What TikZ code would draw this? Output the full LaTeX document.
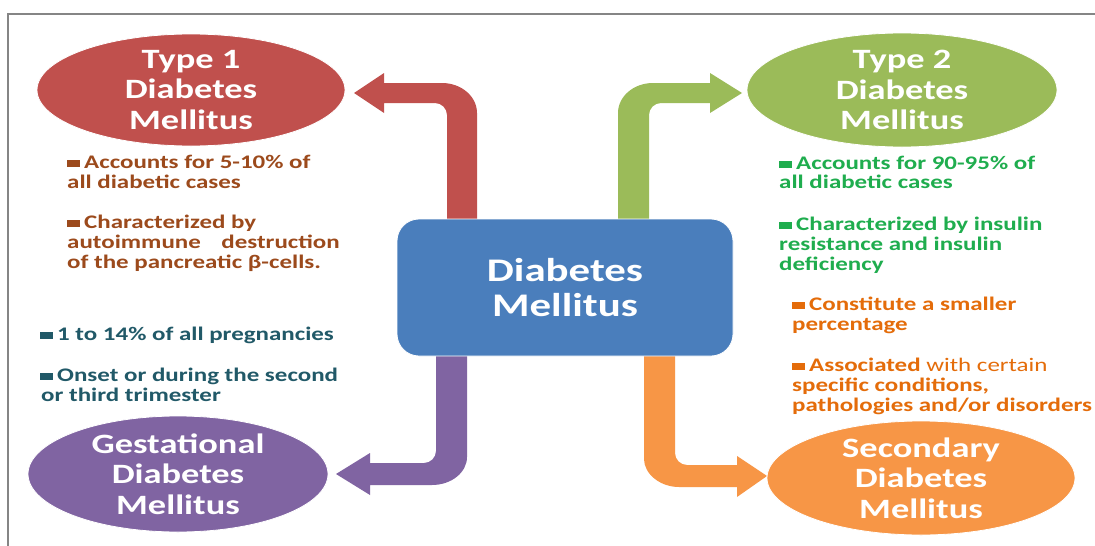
\documentclass[tikz,border=0pt]{standalone}
\usepackage{fontspec}
\setmainfont{Carlito}[FakeStretch=1.3]
\usetikzlibrary{shapes.geometric}
\definecolor{redc}{HTML}{C0504D}
\definecolor{greenc}{HTML}{9BBB59}
\definecolor{purplec}{HTML}{8064A2}
\definecolor{orangec}{HTML}{F79646}
\definecolor{bluec}{HTML}{4A7EBC}
\definecolor{browntx}{HTML}{9C4A1C}
\definecolor{greentx}{HTML}{1FAD4E}
\definecolor{tealtx}{HTML}{215968}
\definecolor{orangetx}{HTML}{E46C0A}
\definecolor{framec}{HTML}{858585}
\newcommand{\bsq}{\rule[1pt]{13pt}{7.5pt}\hspace{4pt}}
\newcommand{\ellfont}{\fontsize{28}{30.5}\selectfont\bfseries}
\newcommand{\ctrfont}{\fontsize{33}{34.5}\selectfont\bfseries}
\newcommand{\bulfont}{\fontsize{19.2}{20}\selectfont\bfseries}
\begin{document}
\begin{tikzpicture}[x=1pt,y=-1pt,
  ellbox/.style={ellipse, inner sep=0pt, minimum width=#1, draw=white, line width=0.8pt},
  elltext/.style={inner sep=0pt, text=white, font=\ellfont, align=center},
  bl/.style={anchor=base west, inner sep=0pt, font=\bulfont},
  br/.style={anchor=base east, inner sep=0pt, font=\bulfont}]
\fill[white] (0,0) rectangle (1095,546);
\useasboundingbox (0,0) rectangle (1095,546);
% frame
\draw[framec, line width=1.2pt] (1095,14) -- (8,14) -- (8,546);
% block arrows
\fill[redc] (447,219) -- (447,115) .. controls (447,108.4) and (441.6,103) .. (435,103)
  -- (384,103) -- (384,113) -- (354,93) -- (384,73) -- (384,83) -- (442,83)
  .. controls (461.3,83) and (477,96.4) .. (477,113) -- (477,219) -- cycle;
\fill[greenc] (649,219) -- (649,115) .. controls (649,108.4) and (654.4,103) .. (661,103)
  -- (710,103) -- (710,113) -- (742,93) -- (710,73) -- (710,83) -- (653,83)
  .. controls (633.7,83) and (618,96.4) .. (618,113) -- (618,219) -- cycle;
\fill[purplec] (436,356) -- (436,451) .. controls (436,457.6) and (430.6,463) .. (424,463)
  -- (370,463) -- (370,453) -- (336,474) -- (370,495) -- (370,485) -- (432,485)
  .. controls (451.3,485) and (467,472.5) .. (467,457) -- (467,356) -- cycle;
\fill[orangec] (675,356) -- (675,453) .. controls (675,459.6) and (680.4,465) .. (687,465)
  -- (737,465) -- (737,456) -- (767,476) -- (737,497) -- (737,487) -- (679,487)
  .. controls (659.7,487) and (644,473.5) .. (644,459) -- (644,356) -- cycle;
% centre
\node[rectangle, rounded corners=22pt, fill=bluec, draw=white, line width=0.8pt,
  minimum width=336pt, minimum height=137pt, text=white, font=\ctrfont, align=center]
  (dm) at (565,287.5) {Diabetes\\Mellitus};
% ellipses
\node[ellbox=308pt, minimum height=112pt, fill=redc] (t1) at (191,90) {};
\node[elltext] (t1t) at (t1.center) {Type 1\\Diabetes\\Mellitus};
\node[ellbox=310pt, minimum height=114pt, fill=greenc] (t2) at (902,90) {};
\node[elltext] (t2t) at (t2.center) {Type 2\\Diabetes\\Mellitus};
\node[ellbox=300pt, minimum height=116pt, fill=purplec] (gd) at (178,474) {};
\node[elltext] (gdt) at (gd.center) {Gestational\\Diabetes\\Mellitus};
\node[ellbox=308pt, minimum height=114pt, fill=orangec] (sd) at (921,478) {};
\node[elltext] (sdt) at (sd.center) {Secondary\\Diabetes\\Mellitus};
% Type 1 bullets
\begin{scope}[text=browntx]
\node[bl] (a1) at (67,168) {\bsq Accounts for 5-10\% of};
\node[bl] (a2) at (67,188) {all diabetic cases};
\node[bl] (a3) at (67,228) {\bsq Characterized by};
\node[bl] (a4) at (67,248) {autoimmune};
\node[br] (a5) at (340,248) {destruction};
\node[bl] (a6) at (67,268) {of the pancreatic β-cells.};
\end{scope}
% Gestational bullets
\begin{scope}[text=tealtx]
\node[bl] (g1) at (40,340) {\bsq 1 to 14\% of all pregnancies};
\node[bl] (g2) at (40,381) {\bsq Onset or during the second};
\node[bl] (g3) at (41,401) {or third trimester};
\end{scope}
% Type 2 bullets
\begin{scope}[text=greentx]
\node[bl] (b1) at (779,169) {\bsq Accounts for 90-95\% of};
\node[bl] (b2) at (779,188) {all diabetic cases};
\node[bl] (b3) at (779,230) {\bsq Characterized by insulin};
\node[bl] (b4) at (779,250) {resistance and insulin};
\node[bl] (b5) at (779,270) {deficiency};
\end{scope}
% Secondary bullets
\begin{scope}[text=orangetx]
\node[bl] (s1) at (792,310) {\bsq Constitute a smaller};
\node[bl] (s2) at (792,330) {percentage};
\node[bl] (s3) at (792,371) {\bsq Associated {\mdseries with certain}};
\node[bl] (s4) at (792,391) {specific conditions,};
\node[bl] (s5) at (792,411) {pathologies and/or disorders};
\end{scope}
\end{tikzpicture}
\end{document}
